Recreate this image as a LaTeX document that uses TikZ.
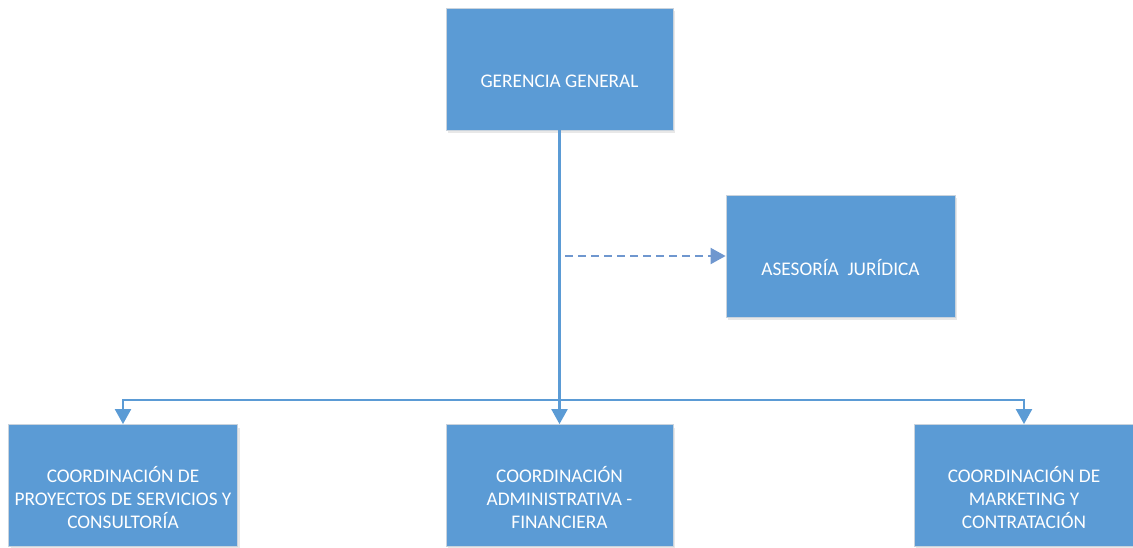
\documentclass[tikz,border=0pt]{standalone}
\usepackage{fontspec}
\setmainfont{Carlito}
\usetikzlibrary{arrows.meta,shadows}
\definecolor{boxblue}{HTML}{5B9BD5}
\definecolor{boxedge}{HTML}{C9D3DD}
\definecolor{dashblue}{HTML}{6F97CF}
\tikzset{
  orgbox/.style={rectangle, fill=boxblue, draw=boxedge, line width=0.8pt,
    minimum width=227pt, minimum height=122pt, inner sep=0pt,
    drop shadow={shadow xshift=2pt, shadow yshift=-3pt, opacity=0.18, fill=gray}},
  boxtext/.style={text=white, font=\fontsize{19.3}{23}\selectfont, align=center,
    inner sep=0pt, yshift=-12pt},
  link/.style={draw=boxblue, line width=2.2pt, -{Triangle[length=15pt,width=16pt]}},
  dashlink/.style={draw=dashblue, line width=2pt, dash pattern=on 8pt off 5pt,
    -{Triangle[length=15pt,width=16pt]}}
}
\begin{document}
\begin{tikzpicture}[x=1pt,y=-1pt]
  \useasboundingbox (0,0) rectangle (1133,547);
  \clip (0,0) rectangle (1133,547);
  % top and staff boxes
  \node[orgbox] (gg) at (559.5,69) {};
  \node[orgbox, minimum width=229pt] (aj) at (840.5,256) {};
  % lower level
  \node[orgbox, minimum width=229pt] (c1) at (123,485.5) {};
  \node[orgbox] (c2) at (559.5,485.5) {};
  \node[orgbox, minimum width=220pt] (c3) at (1024,485.5) {};
  % box captions
  \node[boxtext] (ggt) at (gg.center) {GERENCIA GENERAL};
  \node[boxtext] (ajt) at (aj.center) {ASESORÍA~~JURÍDICA};
  \node[boxtext] (c1t) at (c1.center) {COORDINACIÓN DE\\PROYECTOS DE SERVICIOS Y\\CONSULTORÍA};
  \node[boxtext] (c2t) at (c2.center) {COORDINACIÓN\\ADMINISTRATIVA -\\FINANCIERA};
  \node[boxtext] (c3t) at (c3.center) {COORDINACIÓN DE\\MARKETING Y\\CONTRATACIÓN};
  % connectors
  \coordinate (bus) at (559.5,400);
  \coordinate (dashstart) at (565,256);
  \draw[link] (gg.south) -- (c2.north);
  \draw[link] (bus) -| (c1.north);
  \draw[link] (bus) -| (c3.north);
  \draw[dashlink] (dashstart) -- (aj.west);
\end{tikzpicture}
\end{document}
